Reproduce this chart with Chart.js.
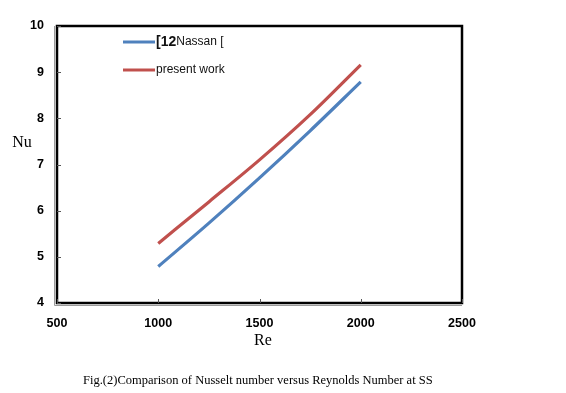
<!DOCTYPE html>
<html>
<head>
<meta charset="utf-8">
<script src="https://cdn.jsdelivr.net/npm/chart.js@4.4.0/dist/chart.umd.min.js"></script>
<style>
  html, body { margin: 0; padding: 0; background: #fff; }
  #wrap { width: 566px; height: 393px; position: relative; }
</style>
</head>
<body>
<div id="wrap"><canvas id="chart"></canvas></div>
<script>
// values
const reynolds = [1000, 1250, 1500, 1750, 2000];
const nassan = [4.79, 5.73, 6.71, 7.73, 8.79];
const presentWork = [5.29, 6.19, 7.10, 8.08, 9.16];
const seriesNames = ['[12Nassan [', 'present work'];
const xTicks = [500, 1000, 1500, 2000, 2500];
const yTicks = [4, 5, 6, 7, 8, 9, 10];

const toPoints = (xs, ys) => xs.map((x, i) => ({ x: x, y: ys[i] }));

// frame, inner tick marks, axis titles, legend and caption
const decorations = {
    id: 'decorations',
    afterDraw(chart) {
        const ctx = chart.ctx;
        const a = chart.chartArea;
        const xs = chart.scales.x;
        const ys = chart.scales.y;
        ctx.save();

        // grey shadow left and below, then the black frame
        ctx.strokeStyle = '#9a9a9a';
        ctx.lineWidth = 1;
        ctx.beginPath();
        ctx.moveTo(a.left - 2.5, a.top);
        ctx.lineTo(a.left - 2.5, a.bottom + 2.5);
        ctx.lineTo(a.right, a.bottom + 2.5);
        ctx.stroke();
        ctx.strokeStyle = '#000';
        ctx.lineWidth = 2.5;
        ctx.strokeRect(a.left, a.top, a.right - a.left, a.bottom - a.top);

        ctx.lineWidth = 1;
        ctx.strokeStyle = '#555';
        ctx.beginPath();
        xTicks.forEach(v => {
            const px = Math.round(xs.getPixelForValue(v)) + 0.5;
            ctx.moveTo(px, a.bottom);
            ctx.lineTo(px, a.bottom - 4);
        });
        yTicks.forEach(v => {
            const py = Math.round(ys.getPixelForValue(v)) + 0.5;
            ctx.moveTo(a.left, py);
            ctx.lineTo(a.left + 4, py);
        });
        ctx.stroke();

        // axis titles
        ctx.fillStyle = '#000';
        ctx.font = '16px "Liberation Serif", "Times New Roman", serif';
        ctx.textAlign = 'center';
        ctx.textBaseline = 'middle';
        ctx.fillText('Re', 263, 341);
        ctx.fillText('Nu', 22, 143);

        // caption
        ctx.font = '12.5px "Liberation Serif", "Times New Roman", serif';
        ctx.textAlign = 'left';
        ctx.fillText('Fig.(2)Comparison of Nusselt number versus Reynolds Number at SS', 83, 381);

        // legend
        const rows = [42, 70];
        chart.data.datasets.forEach((ds, i) => {
            const y = rows[i];
            ctx.strokeStyle = ds.borderColor;
            ctx.lineWidth = 3;
            ctx.beginPath();
            ctx.moveTo(123, y);
            ctx.lineTo(155, y);
            ctx.stroke();
            ctx.fillStyle = '#111';
            ctx.textAlign = 'left';
            if (i === 0) {
                ctx.font = 'bold 14px "Liberation Sans", Arial, sans-serif';
                ctx.fillText('[12', 156, y);
                const w = ctx.measureText('[12').width;
                ctx.font = '12px "Liberation Sans", Arial, sans-serif';
                ctx.fillText(ds.label.slice(3), 156 + w, y);
            } else {
                ctx.font = '12px "Liberation Sans", Arial, sans-serif';
                ctx.fillText(ds.label, 156, y);
            }
        });
        ctx.restore();
    }
};

const tickFont = { family: '"Liberation Sans", Arial, sans-serif', size: 12.5, weight: 'bold' };

new Chart(document.getElementById('chart').getContext('2d'), {
    type: 'line',
    data: {
        datasets: [{
            label: seriesNames[0],
            data: toPoints(reynolds, nassan),
            borderColor: '#4f81bd',
            borderWidth: 3.2,
            pointRadius: 0,
            cubicInterpolationMode: 'monotone',
            fill: false
        }, {
            label: seriesNames[1],
            data: toPoints(reynolds, presentWork),
            borderColor: '#c0504d',
            borderWidth: 3.2,
            pointRadius: 0,
            cubicInterpolationMode: 'monotone',
            fill: false
        }]
    },
    options: {
        responsive: true,
        maintainAspectRatio: false,
        animation: false,
        layout: {
            padding: { left: 0, top: 26, right: 104, bottom: 0 }
        },
        plugins: {
            legend: { display: false },
            tooltip: { enabled: false }
        },
        scales: {
            x: {
                type: 'linear',
                min: 500,
                max: 2500,
                afterBuildTicks: scale => { scale.ticks = xTicks.map(v => ({ value: v })); },
                afterFit: scale => { scale.height = 90; },
                grid: { display: false, drawTicks: false },
                border: { display: false },
                ticks: { color: '#000', font: tickFont, padding: 13, maxRotation: 0, callback: v => String(v) }
            },
            y: {
                type: 'linear',
                min: 4,
                max: 10,
                afterBuildTicks: scale => { scale.ticks = yTicks.map(v => ({ value: v })); },
                afterFit: scale => { scale.width = 57; },
                grid: { display: false, drawTicks: false },
                border: { display: false },
                ticks: { color: '#000', font: tickFont, padding: 13, callback: v => String(v) }
            }
        }
    },
    plugins: [decorations]
});
</script>
</body>
</html>
